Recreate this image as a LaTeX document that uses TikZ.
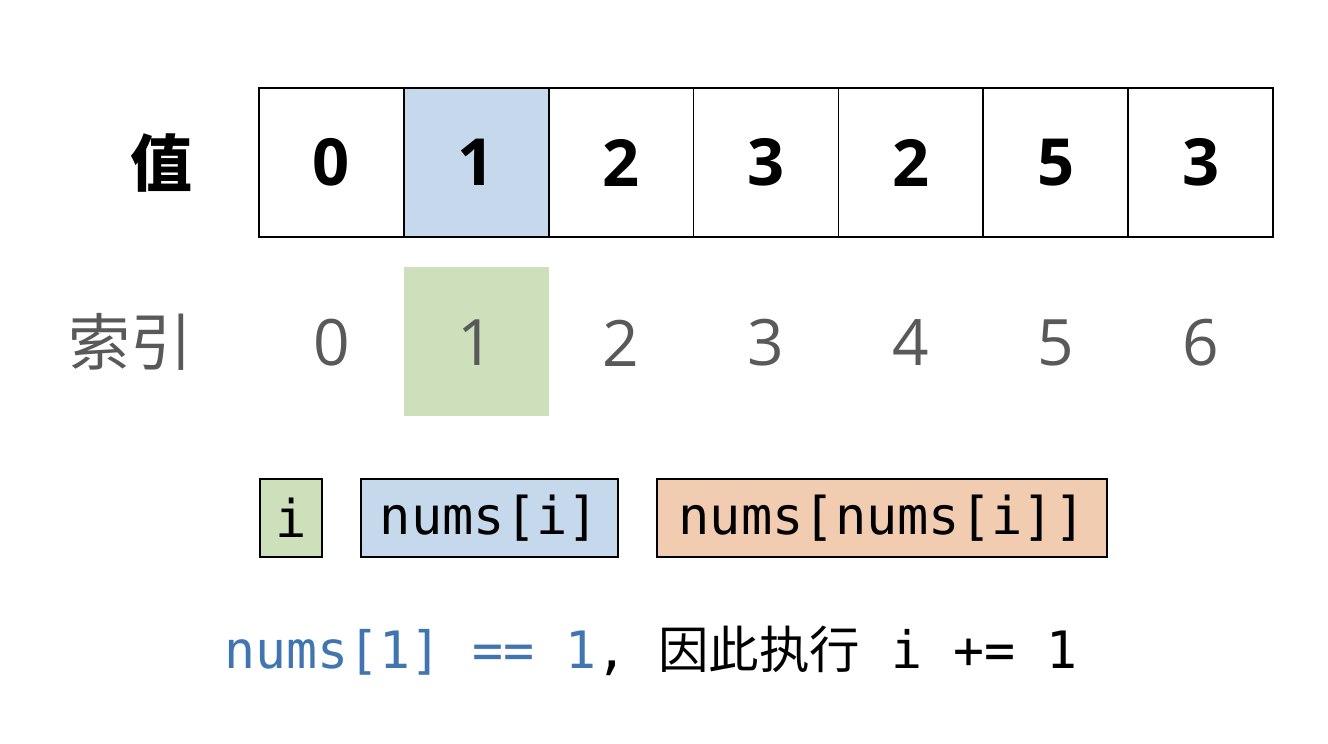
\documentclass[tikz,border=0pt]{standalone}
\usepackage{fontspec}
\setmainfont{Open Sans}
\newfontfamily\cjk{Noto Sans CJK SC}
\newfontfamily\mono{DejaVu Sans Mono}
\definecolor{cellblue}{RGB}{197,216,236}
\definecolor{cellgreen}{RGB}{205,224,187}
\definecolor{cellorange}{RGB}{242,204,176}
\definecolor{codeblue}{RGB}{64,117,176}
\definecolor{idxgray}{RGB}{89,89,89}
\tikzset{
  valcell/.style={draw=black, line width=1.8pt, minimum width=144.86pt, minimum height=149pt, inner sep=0pt, font=\fontsize{65}{65}\selectfont\bfseries},
  idxnum/.style={inner sep=0pt, text=idxgray, font=\fontsize{64}{64}\selectfont},
  legbox/.style={draw=black, line width=1.3pt, minimum height=78pt, inner sep=0pt, font=\mono\fontsize{52}{52}\selectfont},
  rowlabel/.style={inner sep=0pt, font=\cjk\fontsize{62}{62}\selectfont}
}
\begin{document}
\begin{tikzpicture}[x=1pt,y=-1pt]
\useasboundingbox (0,0) rectangle (1328,744);
% value cells
\foreach \v [count=\k from 0] in {0,1,2,3,2,5,3}{
  \ifnum\k=1
    \node[valcell, fill=cellblue] (c\k) at ({259+144.857*(\k+0.5)},162.5) {\v};
  \else
    \node[valcell, fill=white] (c\k) at ({259+144.857*(\k+0.5)},162.5) {\v};
  \fi
}
% index highlight
\node[fill=cellgreen, minimum width=144.86pt, minimum height=149pt, inner sep=0pt] (hl) at ({259+144.857*1.5},341.5) {};
\foreach \v [count=\k from 0] in {0,1,2,3,4,5,6}{
  \node[idxnum] (i\k) at ({259+144.857*(\k+0.5)},343) {\v};
}
% row labels
\node[rowlabel, font=\cjk\bfseries\fontsize{62}{62}\selectfont] (lv) at (161,163) {值};
\node[rowlabel, text=idxgray] (li) at (130,342) {索引};
% legend boxes
\node[legbox, fill=cellgreen, minimum width=62pt] (bi) at (291,518) {i};
\node[legbox, fill=cellblue, minimum width=257pt] (bn) at (489.5,518) {nums[i]};
\node[legbox, fill=cellorange, minimum width=450pt] (bnn) at (882,518) {nums[nums[i]]};
% bottom line
\node[inner sep=0pt, anchor=base west, font=\mono\fontsize{51.5}{51.5}\selectfont] (msg) at (224,668)
  {\textcolor{codeblue}{nums[1] == 1}, {\cjk\fontsize{50.5}{50.5}\selectfont 因此执行} i += 1};
\end{tikzpicture}
\end{document}
